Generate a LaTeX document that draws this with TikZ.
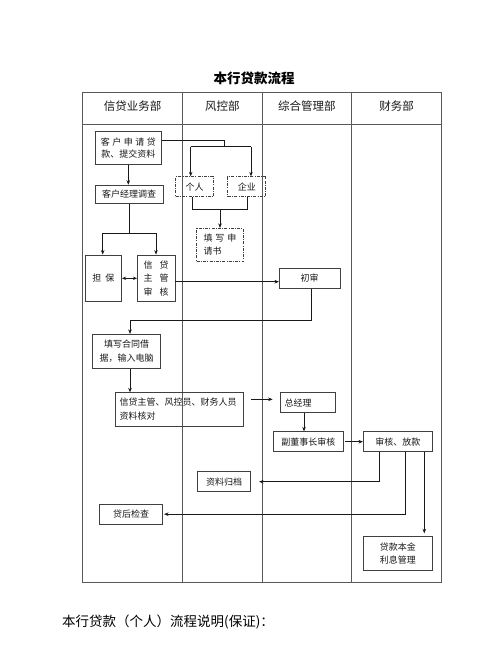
\documentclass[tikz,border=0pt]{standalone}
\usepackage{fontspec}
\newfontfamily\cjk{Noto Sans CJK SC}
\usetikzlibrary{arrows.meta,calc}
\begin{document}
\begin{tikzpicture}[x=1pt,y=-1pt,
  frame/.style={draw=black!65, line width=0.9pt},
  box/.style={draw=black!75, line width=0.75pt, font=\cjk\fontsize{9}{12}\selectfont, text=black!90, inner sep=1pt, align=center},
  dbox/.style={box, dash pattern=on 3pt off 1.3pt on 0.8pt off 1.3pt},
  conn/.style={draw=black!90, line width=0.65pt},
  arr/.style={conn, -{Stealth[length=4.5pt,width=3.6pt]}},
  hdr/.style={font=\cjk\fontsize{11.5}{13}\selectfont, text=black!90}
]
\useasboundingbox (0,0) rectangle (500,657);
\fill[white] (0,0) rectangle (500,657);
% title
\node[font=\cjk\bfseries\fontsize{13.5}{15}\selectfont] (title) at (254,78) {本行贷款流程};
% frame
\draw[frame] (82.7,92.3) rectangle (441.3,582.7);
\draw[frame] (82.7,124) -- (441.3,124);
\draw[frame] (182.7,92.3) -- (182.7,582.7);
\draw[frame] (262,92.3) -- (262,582.7);
\draw[frame] (351.7,92.3) -- (351.7,582.7);
\node[hdr] (h1) at (132.7,106) {信贷业务部};
\node[hdr] (h2) at (222.3,106) {风控部};
\node[hdr] (h3) at (306.8,106) {综合管理部};
\node[hdr] (h4) at (396.5,106) {财务部};
% nodes
\node[box, minimum width=66.7pt, minimum height=32.6pt] (n1) at (128.3,148) {客\kern2.5pt 户\kern2.5pt 申\kern2.5pt 请\kern2.5pt 贷\\款、提交资料};
\node[box, minimum width=68.3pt, minimum height=18.3pt] (n2) at (129.2,194.2) {客户经理调查};
\node[dbox, minimum width=37.6pt, minimum height=20pt] (n3) at (194.5,186.7) {个人};
\node[dbox, minimum width=38pt, minimum height=20pt] (n4) at (246.8,186.7) {企业};
\node[dbox, minimum width=46.6pt, minimum height=33.4pt, align=left, font=\cjk\fontsize{9}{13}\selectfont] (n5) at (220,245) {填\kern3pt 写\kern3pt 申\\请书};
\node[box, minimum width=36.7pt, minimum height=46.7pt] (n6) at (103.3,278.3) {担\kern4pt 保};
\node[box, minimum width=37.7pt, minimum height=46.7pt, font=\cjk\fontsize{9}{13.4}\selectfont] (n7) at (156.2,278.3) {信\kern7pt 贷\\主\kern7pt 管\\审\kern7pt 核};
\node[box, minimum width=60.7pt, minimum height=20pt] (n8) at (309.7,278.3) {初审};
\node[box, minimum width=68.4pt, minimum height=34pt, font=\cjk\fontsize{9}{13.5}\selectfont] (n9) at (126.5,351.3) {填写合同借\\据，输入电脑};
\node[box, minimum width=128.3pt, minimum height=33.3pt, align=left, text width=119pt, inner sep=3.5pt, font=\cjk\fontsize{9}{13.5}\selectfont] (n10) at (179.2,409.3) {信贷主管、风控员、财务人员\\资料核对};
\node[box, minimum width=55pt, minimum height=20pt, align=left, text width=46pt, inner sep=4pt] (n11) at (307.5,402.7) {总经理};
\node[box, minimum width=70pt, minimum height=20pt] (n12) at (308.3,441.7) {副董事长审核};
\node[box, minimum width=69pt, minimum height=20pt] (n13) at (397.8,441.7) {审核、放款};
\node[box, minimum width=53.4pt, minimum height=20pt] (n14) at (224,481.7) {资料归档};
\node[box, minimum width=63.4pt, minimum height=19.7pt] (n15) at (131,514.2) {贷后检查};
\node[box, minimum width=69pt, minimum height=33.3pt, font=\cjk\fontsize{9}{13.5}\selectfont] (n16) at (397.8,553.3) {贷款本金\\利息管理};
% connectors
\coordinate (c1) at (224,146.7);
\coordinate (c2) at (190.7,146.7);
\coordinate (c3) at (251,146.7);
\coordinate (c4) at (220,209.3);
\coordinate (c5) at (129.2,233);
\coordinate (c6) at (102.7,233);
\coordinate (c7) at (156,233);
\draw[conn] (n1.east |- 0,140) -| (c1);
\draw[conn] (c2) -- (c3);
\draw[arr] (c2) -- (c2 |- n3.north);
\draw[arr] (c3) -- (c3 |- n4.north);
\draw[conn] (192.7,200 |- n3.south) |- (247.3,209.3) -- (247.3,200 |- n4.south);
\draw[arr] (c4) -- (n5.north);
\draw[arr] (n1.south) -- (n1.south |- n2.north);
\draw[conn] (n2.south) -- (c5);
\draw[conn] (c6) -- (c7);
\draw[arr] (c6) -- (c6 |- n6.north);
\draw[arr] (c7) -- (c7 |- n7.north);
\draw[conn, {Stealth[length=4pt,width=3.4pt]}-{Stealth[length=4pt,width=3.4pt]}] (n6.east) -- (n7.west);
\draw[arr] (n7.east |- 0,281.7) -- (n8.west |- 0,281.7);
\draw[arr] (311.7,300 |- n8.south) |- (130,320.7) -- (130,330 |- n9.north);
\draw[arr] (130,360 |- n9.south) -- (130,390 |- n10.north);
\draw[arr, shorten >=7pt] ([xshift=7pt]n10.east |- 0,399.3) -- (n11.west |- 0,399.3);
\draw[arr] (304,410 |- n11.south) -- (304,430 |- n12.north);
\draw[arr, shorten <=1.5pt] (n12.east) -- (n13.west);
\draw[arr, shorten >=8pt] ([xshift=-18.5pt]n13.south) |- (n14.east);
\draw[arr, shorten >=1pt] ([xshift=7.9pt]n13.south) |- (n15.east);
\draw[arr, shorten >=3pt] ([xshift=26.5pt]n13.south) -- ([xshift=26.5pt]n16.north);
% bottom text
\node[font=\cjk\fontsize{13.5}{16}\selectfont, anchor=west, inner sep=0pt] (foot) at (62,622) {本行贷款（个人）流程说明(保证)：};
\end{tikzpicture}
\end{document}
